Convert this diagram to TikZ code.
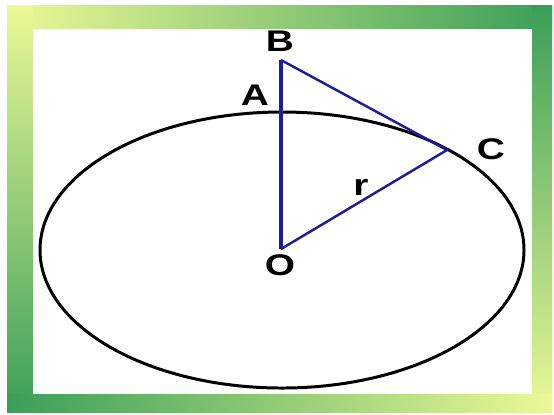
\documentclass[tikz,border=0pt]{standalone}
\usepackage{fontspec}
\setmainfont{Liberation Sans}
\usepackage{tikz}
\usetikzlibrary{calc}
\definecolor{framegreen}{RGB}{58,158,88}
\definecolor{frameyellow}{RGB}{236,249,150}
\definecolor{segblue}{RGB}{28,28,158}
\tikzset{lbl/.style={font=\fontsize{17}{19}\selectfont\bfseries, inner sep=0, xscale=1.3}}

\begin{document}
\begin{tikzpicture}[x=0.02cm, y=-0.02cm]
\useasboundingbox (0,0) rectangle (554,414);
\fill[white] (0,0) rectangle (554,414);
\shade[left color=frameyellow, right color=framegreen] (7,5) rectangle (552,29);
\shade[top color=frameyellow, bottom color=framegreen] (7,5) rectangle (33,412);
\shade[top color=framegreen, bottom color=frameyellow] (532,5) rectangle (552,412);
\shade[left color=framegreen, right color=frameyellow] (7,394) rectangle (552,412);
\fill[white] (33,29) rectangle (532,394);
\draw[black, line width=1.7pt] (282,250) ellipse [x radius=242, y radius=138];
\coordinate (O) at (281,249);
\coordinate (A) at (281,112);
\coordinate (B) at (281,60);
\coordinate (C) at (447,150);
\draw[segblue, line width=2.3pt] (O) -- (B);
\draw[segblue, line width=1.4pt, line join=miter] (B) -- (C) -- (O);
\node[lbl] (labB) at (280,41) {B};
\node[lbl] (labA) at (255,95) {A};
\node[lbl] (labC) at (491,149) {C};
\node[lbl] (labO) at (280,265) {O};
\node[lbl] (labr) at (361,187) {r};
\end{tikzpicture}
\end{document}
